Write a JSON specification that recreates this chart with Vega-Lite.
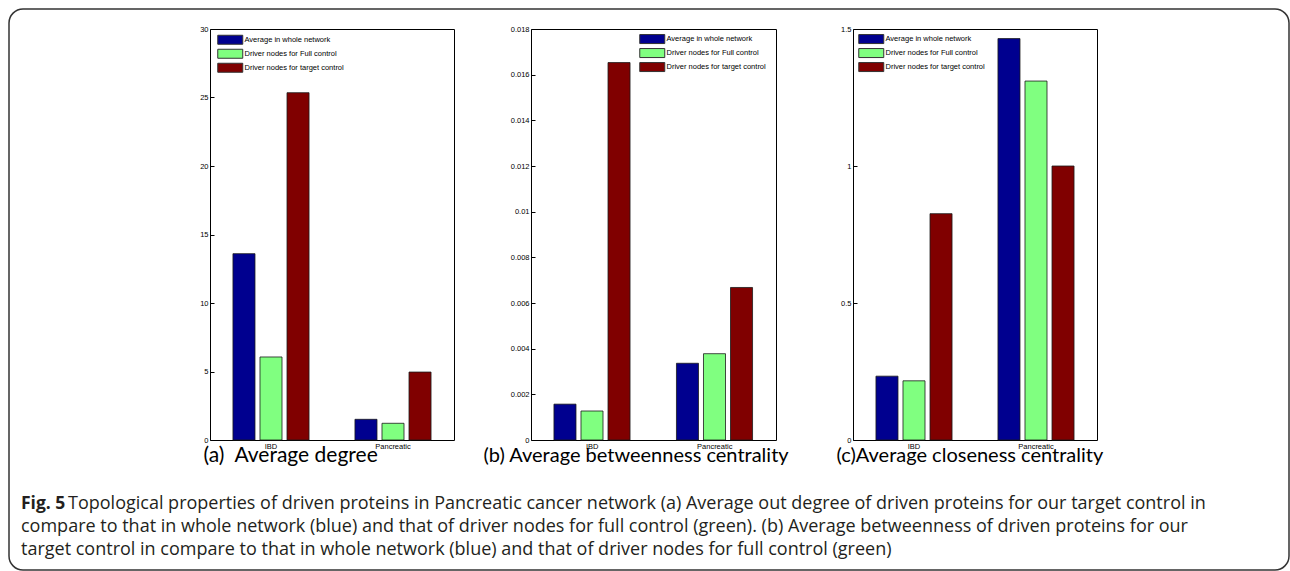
{
  "$schema": "https://vega.github.io/schema/vega-lite/v6.json",
  "background": "white",
  "padding": {"left": 7, "top": 7, "right": 0, "bottom": 0},
  "datasets": {
    "degree": [
      {"group": "IBD", "series": "Average in whole network", "value": 13.6},
      {"group": "IBD", "series": "Driver nodes for Full control", "value": 6.06},
      {"group": "IBD", "series": "Driver nodes for target control", "value": 25.35},
      {"group": "Pancreatic", "series": "Average in whole network", "value": 1.51},
      {"group": "Pancreatic", "series": "Driver nodes for Full control", "value": 1.22},
      {"group": "Pancreatic", "series": "Driver nodes for target control", "value": 4.96}
    ],
    "betweenness": [
      {"group": "IBD", "series": "Average in whole network", "value": 0.00157},
      {"group": "IBD", "series": "Driver nodes for Full control", "value": 0.00127},
      {"group": "IBD", "series": "Driver nodes for target control", "value": 0.01653},
      {"group": "Pancreatic", "series": "Average in whole network", "value": 0.00336},
      {"group": "Pancreatic", "series": "Driver nodes for Full control", "value": 0.00378},
      {"group": "Pancreatic", "series": "Driver nodes for target control", "value": 0.00668}
    ],
    "closeness": [
      {"group": "IBD", "series": "Average in whole network", "value": 0.233},
      {"group": "IBD", "series": "Driver nodes for Full control", "value": 0.216},
      {"group": "IBD", "series": "Driver nodes for target control", "value": 0.826},
      {"group": "Pancreatic", "series": "Average in whole network", "value": 1.465},
      {"group": "Pancreatic", "series": "Driver nodes for Full control", "value": 1.31},
      {"group": "Pancreatic", "series": "Driver nodes for target control", "value": 1.0}
    ],
    "caption": [
      {"kind": "lead", "line": 1, "label": "Fig. 5"},
      {"kind": "body", "line": 1, "label": "Topological properties of driven proteins in Pancreatic cancer network (a) Average out degree of driven proteins for our target control in"},
      {"kind": "body", "line": 2, "label": "compare to that in whole network (blue) and that of driver nodes for full control (green). (b) Average betweenness of driven proteins for our"},
      {"kind": "body", "line": 3, "label": "target control in compare to that in whole network (blue) and that of driver nodes for full control (green)"}
    ],
    "frame": [{"part": "border"}]
  },
  "hconcat": [
    {
      "width": 244, "height": 411,
      "layer": [
        {
          "data": {"name": "degree"},
          "mark": {"type": "bar", "stroke": "#1a1a1a", "strokeWidth": 0.8},
          "encoding": {
            "x": {"field": "group", "type": "nominal", "sort": ["IBD", "Pancreatic"], "scale": {"paddingInner": 0, "paddingOuter": 0},
              "axis": {"orient": "bottom", "ticks": false, "domain": false, "labelAngle": 0, "labelFont": "Liberation Sans", "labelFontSize": 7.5, "labelColor": "black", "labelPadding": 2,
                "title": "(a)\u00a0\u00a0Average degree", "titleFont": "Lato", "titleFontSize": 21, "titleFontWeight": "normal", "titleColor": "black", "titleAnchor": "start", "titleAlign": "left", "titleX": -7, "titleY": 21, "titleBaseline": "alphabetic"}},
            "xOffset": {"field": "series", "type": "nominal", "scale": {"domain": ["Average in whole network", "Driver nodes for Full control", "Driver nodes for target control"], "paddingInner": 0.185, "paddingOuter": 0.85}},
            "y": {"field": "value", "type": "quantitative", "scale": {"domain": [0, 30], "nice": false},
              "axis": {"orient": "left", "values": [0, 5, 10, 15, 20, 25, 30], "format": "~g", "tickSize": -4, "tickColor": "black", "domain": false, "grid": false, "labelFont": "Liberation Sans", "labelFontSize": 7.5, "labelColor": "black", "labelPadding": 6, "title": null}},
            "color": {"field": "series", "type": "nominal",
              "scale": {"domain": ["Average in whole network", "Driver nodes for Full control", "Driver nodes for target control"], "range": ["#00008F", "#80FF80", "#800000"]},
              "legend": {"orient": "none", "legendX": 16.5, "legendY": 7, "title": null, "symbolType": "M-4.1667,-1.5L4.1667,-1.5L4.1667,1.5L-4.1667,1.5Z", "symbolSize": 36, "symbolStrokeColor": "#333", "symbolStrokeWidth": 1, "symbolOpacity": 1, "labelFont": "Liberation Sans", "labelFontSize": 7.5, "labelColor": "black", "labelOffset": 10.5, "rowPadding": 0, "padding": 0}}
          }
        },
        {
          "data": {"name": "frame"},
          "mark": {"type": "rect", "filled": false, "stroke": "#333", "strokeWidth": 1.5, "cornerRadius": 14},
          "encoding": {"x": {"value": -201}, "x2": {"value": 1079}, "y": {"value": -20}, "y2": {"value": 541}}
        },
        {
          "data": {"name": "caption"},
          "transform": [{"filter": "datum.kind == 'lead'"}],
          "mark": {"type": "text", "align": "left", "baseline": "middle", "font": "Open Sans", "fontSize": 17.5, "fontWeight": "bold", "color": "#231f20", "x": -189, "y": 475},
          "encoding": {"text": {"field": "label"}}
        },
        {
          "data": {"name": "caption"},
          "transform": [{"filter": "datum.kind == 'body' && datum.line == 1"}],
          "mark": {"type": "text", "align": "left", "baseline": "middle", "font": "Open Sans", "fontSize": 18, "color": "#231f20", "x": -142, "y": 475},
          "encoding": {"text": {"field": "label"}}
        },
        {
          "data": {"name": "caption"},
          "transform": [{"filter": "datum.kind == 'body' && datum.line == 2"}],
          "mark": {"type": "text", "align": "left", "baseline": "middle", "font": "Open Sans", "fontSize": 18, "color": "#231f20", "x": -189, "y": 498},
          "encoding": {"text": {"field": "label"}}
        },
        {
          "data": {"name": "caption"},
          "transform": [{"filter": "datum.kind == 'body' && datum.line == 3"}],
          "mark": {"type": "text", "align": "left", "baseline": "middle", "font": "Open Sans", "fontSize": 18, "color": "#231f20", "x": -189, "y": 521},
          "encoding": {"text": {"field": "label"}}
        }
      ]
    },
    {
      "width": 245, "height": 411,
      "data": {"name": "betweenness"},
      "mark": {"type": "bar", "stroke": "#1a1a1a", "strokeWidth": 0.8},
      "encoding": {
        "x": {"field": "group", "type": "nominal", "sort": ["IBD", "Pancreatic"], "scale": {"paddingInner": 0, "paddingOuter": 0},
          "axis": {"orient": "bottom", "ticks": false, "domain": false, "labelAngle": 0, "labelFont": "Liberation Sans", "labelFontSize": 7.5, "labelColor": "black", "labelPadding": 2,
            "title": "(b) Average betweenness centrality", "titleFont": "Lato", "titleFontSize": 20, "titleFontWeight": "normal", "titleColor": "black", "titleAnchor": "start", "titleAlign": "left", "titleX": -48, "titleY": 21, "titleBaseline": "alphabetic"}},
        "xOffset": {"field": "series", "type": "nominal", "scale": {"domain": ["Average in whole network", "Driver nodes for Full control", "Driver nodes for target control"], "paddingInner": 0.185, "paddingOuter": 0.85}},
        "y": {"field": "value", "type": "quantitative", "scale": {"domain": [0, 0.018], "nice": false},
          "axis": {"orient": "left", "values": [0, 0.002, 0.004, 0.006, 0.008, 0.01, 0.012, 0.014, 0.016, 0.018], "format": "~g", "tickSize": -4, "tickColor": "black", "domain": false, "grid": false, "labelFont": "Liberation Sans", "labelFontSize": 7.5, "labelColor": "black", "labelPadding": 6, "title": null}},
        "color": {"field": "series", "type": "nominal",
          "scale": {"domain": ["Average in whole network", "Driver nodes for Full control", "Driver nodes for target control"], "range": ["#00008F", "#80FF80", "#800000"]},
          "legend": {"orient": "none", "legendX": 117.5, "legendY": 6.3, "title": null, "symbolType": "M-4.1667,-1.5L4.1667,-1.5L4.1667,1.5L-4.1667,1.5Z", "symbolSize": 36, "symbolStrokeColor": "#333", "symbolStrokeWidth": 1, "symbolOpacity": 1, "labelFont": "Liberation Sans", "labelFontSize": 7.5, "labelColor": "black", "labelOffset": 10.5, "rowPadding": 0, "padding": 0}}
      }
    },
    {
      "width": 244, "height": 411,
      "data": {"name": "closeness"},
      "mark": {"type": "bar", "stroke": "#1a1a1a", "strokeWidth": 0.8},
      "encoding": {
        "x": {"field": "group", "type": "nominal", "sort": ["IBD", "Pancreatic"], "scale": {"paddingInner": 0, "paddingOuter": 0},
          "axis": {"orient": "bottom", "ticks": false, "domain": false, "labelAngle": 0, "labelFont": "Liberation Sans", "labelFontSize": 7.5, "labelColor": "black", "labelPadding": 2,
            "title": "(c)Average closeness centrality", "titleFont": "Lato", "titleFontSize": 20, "titleFontWeight": "normal", "titleColor": "black", "titleAnchor": "start", "titleAlign": "left", "titleX": -17, "titleY": 21, "titleBaseline": "alphabetic"}},
        "xOffset": {"field": "series", "type": "nominal", "scale": {"domain": ["Average in whole network", "Driver nodes for Full control", "Driver nodes for target control"], "paddingInner": 0.185, "paddingOuter": 0.85}},
        "y": {"field": "value", "type": "quantitative", "scale": {"domain": [0, 1.5], "nice": false},
          "axis": {"orient": "left", "values": [0, 0.5, 1, 1.5], "format": "~g", "tickSize": -4, "tickColor": "black", "domain": false, "grid": false, "labelFont": "Liberation Sans", "labelFontSize": 7.5, "labelColor": "black", "labelPadding": 6, "title": null}},
        "color": {"field": "series", "type": "nominal",
          "scale": {"domain": ["Average in whole network", "Driver nodes for Full control", "Driver nodes for target control"], "range": ["#00008F", "#80FF80", "#800000"]},
          "legend": {"orient": "none", "legendX": 14.5, "legendY": 6.3, "title": null, "symbolType": "M-4.1667,-1.5L4.1667,-1.5L4.1667,1.5L-4.1667,1.5Z", "symbolSize": 36, "symbolStrokeColor": "#333", "symbolStrokeWidth": 1, "symbolOpacity": 1, "labelFont": "Liberation Sans", "labelFontSize": 7.5, "labelColor": "black", "labelOffset": 10.5, "rowPadding": 0, "padding": 0}}
      }
    }
  ],
  "spacing": 77,
  "bounds": "flush",
  "resolve": {"scale": {"color": "independent"}},
  "config": {
    "view": {"stroke": "black", "strokeWidth": 1}
  }
}
